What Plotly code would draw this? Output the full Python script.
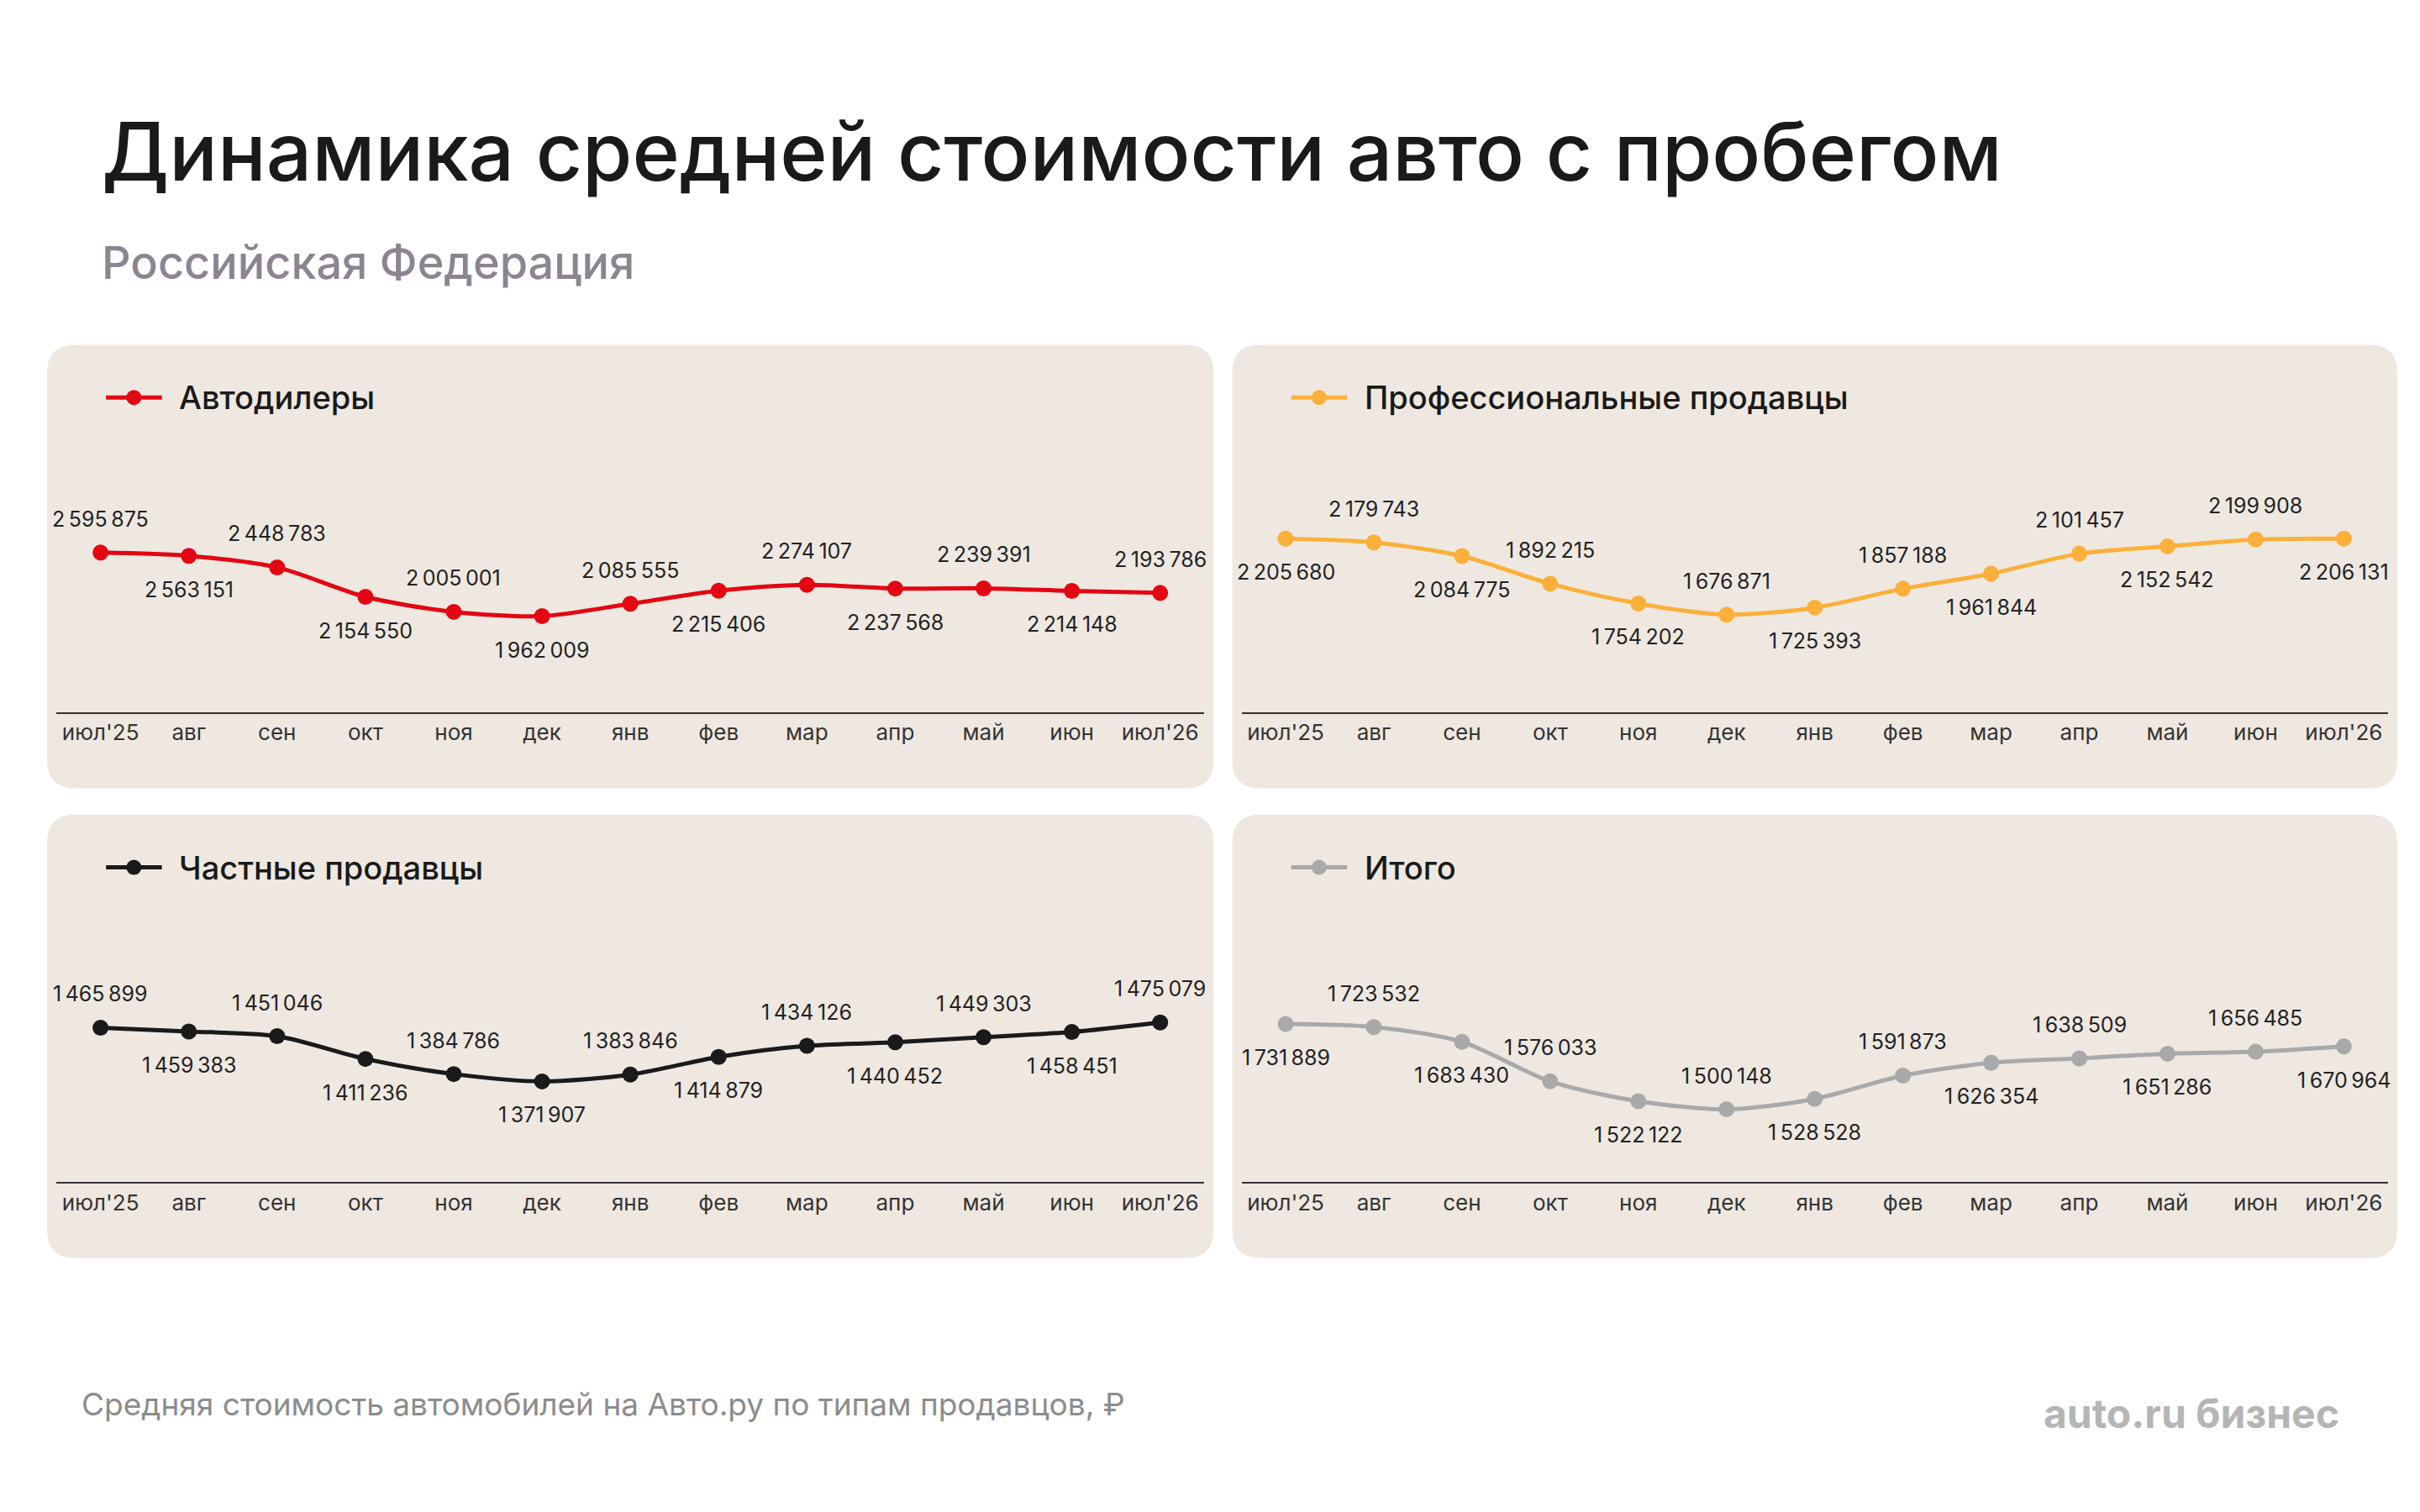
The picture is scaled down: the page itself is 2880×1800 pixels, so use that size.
import plotly.graph_objects as go

W, H = 2880, 1800
S = W / 1560  # reference sketch px -> real px

months = ["июл'25", "авг", "сен", "окт", "ноя", "дек", "янв", "фев", "мар", "апр", "май", "июн", "июл'26"]

dealers = [2595875, 2563151, 2448783, 2154550, 2005001, 1962009, 2085555, 2215406, 2274107, 2237568, 2239391, 2214148, 2193786]
pros = [2205680, 2179743, 2084775, 1892215, 1754202, 1676871, 1725393, 1857188, 1961844, 2101457, 2152542, 2199908, 2206131]
private = [1465899, 1459383, 1451046, 1411236, 1384786, 1371907, 1383846, 1414879, 1434126, 1440452, 1449303, 1458451, 1475079]
total = [1731889, 1723532, 1683430, 1576033, 1522122, 1500148, 1528528, 1591873, 1626354, 1638509, 1651286, 1656485, 1670964]

names = ["Автодилеры", "Профессиональные продавцы", "Частные продавцы", "Итого"]
colors = ["#E30613", "#FBB03B", "#1A1A1A", "#A9A9A9"]
series = [dealers, pros, private, total]

# panel boxes in sketch px: (x0, x1, y0, y1), plus pixel anchors for max/min value
panels = [
    (26, 778, 218, 504, 352, 393),
    (790, 1541, 218, 504, 343, 392),
    (26, 778, 521, 807, 655, 693),
    (790, 1541, 521, 807, 656, 711),
]
first_above = [True, False, True, False]


def px(x):
    return x / 1560


def py(y):
    return 1 - y / 975


def fmt(v):
    return f"{v:,}".replace(",", "\u202f")


fig = go.Figure()
shapes = []
annotations = []

for i, (vals, (x0, x1, y0, y1, ytop, ybot)) in enumerate(zip(series, panels)):
    r = 18
    dx, dy = px(r), r / 975
    a, b, c, d = px(x0), px(x1), py(y1), py(y0)
    path = (f"M {a+dx},{c} L {b-dx},{c} Q {b},{c} {b},{c+dy} L {b},{d-dy} Q {b},{d} {b-dx},{d} "
            f"L {a+dx},{d} Q {a},{d} {a},{d-dy} L {a},{c+dy} Q {a},{c} {a+dx},{c} Z")
    shapes.append(dict(type="path", path=path, xref="paper", yref="paper",
                       fillcolor="#EEE8E1", line=dict(width=0), layer="below"))

    axis_y = y1 - 49
    top_px = y0 + 80
    vmax, vmin = max(vals), min(vals)
    s = (vmax - vmin) / (ybot - ytop)
    rng = [vmin - (axis_y - ybot) * s, vmax + (ytop - top_px) * s]

    n = i + 1
    xa = "x" if n == 1 else f"x{n}"
    ya = "y" if n == 1 else f"y{n}"
    # labels alternate above/below the points; pad them off the markers
    above = [(k % 2 == 0) == first_above[i] for k in range(len(vals))]
    fig.add_trace(go.Scatter(
        x=months, y=vals, mode="lines+markers", xaxis=xa, yaxis=ya,
        line=dict(color=colors[i], width=5, shape="spline", smoothing=0.8),
        marker=dict(color=colors[i], size=19),
        showlegend=False, cliponaxis=False, hoverinfo="skip"))
    for k, v in enumerate(vals):
        annotations.append(dict(x=months[k], y=v, xref=xa, yref=ya, text=fmt(v), showarrow=False,
                                yshift=40 if above[k] else -40, yanchor="middle",
                                font=dict(size=25, color="#222", family="Inter")))
    ax = dict(domain=[px(x0 + 6), px(x1 - 6)], range=[-0.5, 12.5], showgrid=False, zeroline=False,
              showline=True, linecolor="#333", linewidth=2, ticks="",
              tickfont=dict(size=26, color="#333", family="Inter"), anchor=ya, fixedrange=True)
    ay = dict(domain=[py(axis_y), py(top_px)], range=rng, visible=False, anchor=xa, fixedrange=True)
    fig.update_layout(**{("xaxis" if n == 1 else f"xaxis{n}"): ax,
                         ("yaxis" if n == 1 else f"yaxis{n}"): ay})

    # legend item
    ly = y0 + 34
    lx = x0 + 38
    shapes.append(dict(type="line", xref="paper", yref="paper", x0=px(lx), x1=px(lx + 36),
                       y0=py(ly), y1=py(ly), line=dict(color=colors[i], width=5)))
    shapes.append(dict(type="circle", xref="paper", yref="paper", x0=px(lx + 18) - 9 / W,
                       x1=px(lx + 18) + 9 / W, y0=py(ly) - 9 / H, y1=py(ly) + 9 / H,
                       fillcolor=colors[i], line=dict(width=0)))
    annotations.append(dict(text=names[i], xref="paper", yref="paper", x=px(lx + 46), y=py(ly),
                            xanchor="left", yanchor="middle", showarrow=False,
                            font=dict(size=38, color="#1A1A1A", family="Inter", weight=500)))

annotations += [
    dict(text="Динамика средней стоимости авто с пробегом", xref="paper", yref="paper",
         x=px(60), y=py(93), xanchor="left", yanchor="middle", showarrow=False,
         font=dict(size=96, color="#1A1A1A", family="Inter", weight=500)),
    dict(text="Российская Федерация", xref="paper", yref="paper",
         x=px(60), y=py(165), xanchor="left", yanchor="middle", showarrow=False,
         font=dict(size=54, color="#8C8590", family="Inter", weight=500)),
    dict(text="Средняя стоимость автомобилей на Авто.ру по типам продавцов, ₽", xref="paper", yref="paper",
         x=px(47), y=py(901), xanchor="left", yanchor="middle", showarrow=False,
         font=dict(size=37, color="#8C8C8C", family="Inter")),
    dict(text="<b>auto.ru бизнес</b>", xref="paper", yref="paper",
         x=px(1505), y=py(907), xanchor="right", yanchor="middle", showarrow=False,
         font=dict(size=48, color="#B5B5B5", family="Inter")),
]

fig.update_layout(width=W, height=H, margin=dict(l=0, r=0, t=0, b=0),
                  paper_bgcolor="white", plot_bgcolor="rgba(0,0,0,0)",
                  shapes=shapes, annotations=annotations)

fig.write_html("out.html")
